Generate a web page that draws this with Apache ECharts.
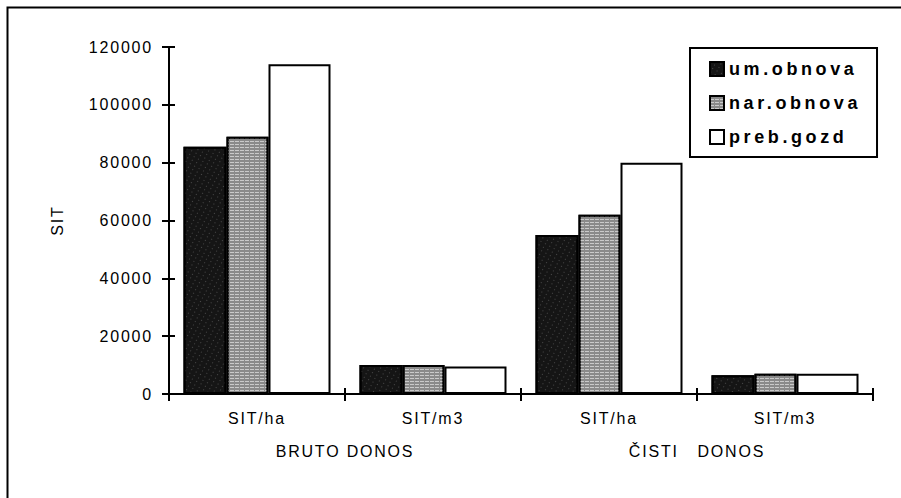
<!DOCTYPE html>
<html>
<head>
<meta charset="utf-8">
<script src="https://cdn.jsdelivr.net/npm/echarts@6/dist/echarts.min.js"></script>
<style>
  html, body { margin: 0; padding: 0; background: #fff; }
  #chart { width: 901px; height: 498px; }
  #chart text { white-space: pre; letter-spacing: 1.8px; }
  #chart text[style*="18px"], #chart text[font-size="18"], #chart text[font-size="18px"] { letter-spacing: 3.6px; }
</style>
</head>
<body>
<div id="chart"></div>
<script>
const categories = ['SIT/ha', 'SIT/m3', 'SIT/ha', 'SIT/m3'];
const groupLabels = ['BRUTO DONOS', 'ČISTI   DONOS'];
const seriesNames = ['um.obnova', 'nar.obnova', 'preb.gozd'];
const umObnova = [85500, 10000, 55000, 6500];
const narObnova = [89000, 10000, 62000, 7000];
const prebGozd = [114000, 9500, 80000, 7000];
const yTicks = { min: 0, max: 120000, interval: 20000 };

const FONT = "'Liberation Sans', Arial, sans-serif";
const chart = echarts.init(document.getElementById('chart'), null, { renderer: 'svg' });

const yCommon = {
  type: 'value', position: 'left', min: yTicks.min, max: yTicks.max, interval: yTicks.interval,
  splitLine: { show: false }
};

chart.setOption({
  animation: false,
  backgroundColor: '#fff',
  grid: { left: 169, right: 28, top: 47, bottom: 104, containLabel: false },
  graphic: [{
    type: 'rect', left: 5, top: 5, silent: true,
    shape: { width: 905, height: 505 },
    style: { fill: 'none', stroke: '#000', lineWidth: 2 }
  }],
  legend: {
    orient: 'vertical', left: 690, top: 48,
    padding: [12, 52, 11, 19], itemGap: 16,
    itemWidth: 14, itemHeight: 14, itemTextGap: 9,
    borderColor: '#000', borderWidth: 2, backgroundColor: '#fff',
    icon: 'rect',
    textStyle: { fontFamily: FONT, fontSize: 18, fontWeight: 'bold', color: '#000' },
    data: seriesNames
  },
  xAxis: [{
    type: 'category', position: 'bottom', data: categories,
    axisLine: { lineStyle: { color: '#000', width: 2 } },
    axisTick: { show: true, interval: 0, length: 7, lineStyle: { color: '#000', width: 2 } },
    axisLabel: { interval: 0, margin: 16, fontFamily: FONT, fontSize: 16, color: '#000' }
  }, {
    type: 'category', position: 'bottom', data: categories,
    axisLine: { show: false },
    axisTick: { show: true, inside: true, interval: 0, length: 6, lineStyle: { color: '#000', width: 2 } },
    axisLabel: { show: false }
  }, {
    type: 'category', position: 'bottom', offset: 33, data: groupLabels,
    axisLine: { show: false }, axisTick: { show: false },
    axisLabel: { interval: 0, margin: 16, fontFamily: FONT, fontSize: 16, color: '#000' }
  }],
  yAxis: [Object.assign({}, yCommon, {
    name: 'SIT', nameLocation: 'middle', nameGap: 104,
    nameTextStyle: { fontFamily: FONT, fontSize: 16, color: '#000' },
    axisLine: { show: true, lineStyle: { color: '#000', width: 2 } },
    axisTick: { show: true, length: 7, lineStyle: { color: '#000', width: 2 } },
    axisLabel: { margin: 16, fontFamily: FONT, fontSize: 16, color: '#000', formatter: v => String(v) }
  }), Object.assign({}, yCommon, {
    axisLine: { show: false },
    axisTick: { show: true, inside: true, length: 6, lineStyle: { color: '#000', width: 2 } },
    axisLabel: { show: false }
  })],
  series: [{
    name: seriesNames[0], type: 'bar', data: umObnova, barWidth: 43, barGap: '0%',
    itemStyle: {
      color: '#151515', borderColor: '#000', borderWidth: 2,
      decal: { symbol: 'rect', symbolSize: 1, color: 'rgba(255,255,255,0.22)', dashArrayX: [[1, 4]], dashArrayY: [1, 3], rotation: 0.5 }
    }
  }, {
    name: seriesNames[1], type: 'bar', data: narObnova, barWidth: 42, barGap: '0%',
    itemStyle: {
      color: '#8a8a8a', borderColor: '#000', borderWidth: 2,
      decal: { symbol: 'rect', symbolSize: 1, color: 'rgba(255,255,255,0.55)', dashArrayX: [[4, 1]], dashArrayY: [1, 2], rotation: 0 }
    }
  }, {
    name: seriesNames[2], type: 'bar', data: prebGozd, barWidth: 62, barGap: '0%',
    itemStyle: { color: '#fff', borderColor: '#000', borderWidth: 2 }
  }]
});
</script>
</body>
</html>
